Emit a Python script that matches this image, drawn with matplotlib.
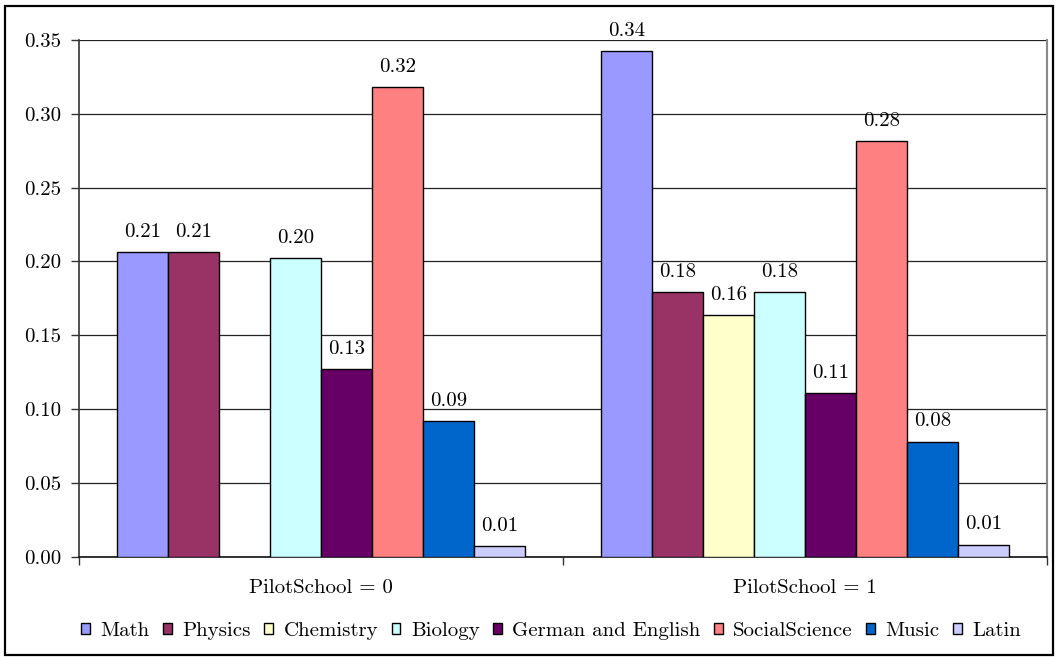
import numpy as np
import matplotlib.pyplot as plt
from matplotlib.patches import Rectangle

plt.rcParams['font.family'] = ["cmr10", "DejaVu Serif"]
plt.rcParams['mathtext.fontset'] = "cm"
plt.rcParams['axes.formatter.use_mathtext'] = True

groups = ["PilotSchool = 0", "PilotSchool = 1"]
subjects = ["Math", "Physics", "Chemistry", "Biology", "German and English",
            "SocialScience", "Music", "Latin"]
colours = ["#9999FF", "#993366", "#FFFFCC", "#CCFFFF", "#660066",
           "#FF8080", "#0066CC", "#CCCCFF"]

# share per subject, one entry per group (no Chemistry value for group 0)
math = [0.2065, 0.3425]
physics = [0.2065, 0.1790]
chemistry = [np.nan, 0.1635]
biology = [0.2020, 0.1790]
german = [0.1270, 0.1110]
social = [0.3180, 0.2815]
music = [0.0920, 0.0780]
latin = [0.0070, 0.0082]
values = [math, physics, chemistry, biology, german, social, music, latin]

fs = 15

fig = plt.figure(figsize=(10.56, 6.57), dpi=100)
ax = fig.add_axes([0.0748, 0.1527, 0.9167, 0.7864])

n = len(subjects)
width = (408 / 484) / n
x = np.arange(len(groups))
for i, (name, vals, c) in enumerate(zip(subjects, values, colours)):
    pos = x - width * n / 2 + width * (i + 0.5)
    bars = ax.bar(pos, vals, width, color=c, edgecolor="black", linewidth=1.0,
                  label=name, zorder=3)
    labels = ["" if np.isnan(v) else f"{v:.2f}" for v in vals]
    ax.bar_label(bars, labels=labels, padding=8, fontsize=fs)

ax.set_xlim(-0.5, 1.5)
ax.set_ylim(0, 0.35)
ticks = np.arange(0, 0.351, 0.05)
ax.set_yticks(ticks)
ax.set_yticklabels([f"{t:.2f}" for t in ticks], fontsize=fs)
ax.yaxis.grid(True, color="#222222", linewidth=0.9, zorder=0)

ax.set_xticks([-0.5, 0.5, 1.5])
ax.set_xticklabels([])
ax.set_xticks(x, minor=True)
ax.set_xticklabels(groups, minor=True, fontsize=fs)
ax.tick_params(axis="x", which="minor", length=0, pad=16)
ax.tick_params(axis="x", which="major", length=6, width=1, color="#333333")
ax.tick_params(axis="y", length=6, width=1, color="#333333", pad=7)

ax.spines["top"].set_visible(False)
ax.spines["right"].set_color("#888888")
ax.spines["right"].set_linewidth(1.5)
ax.spines["left"].set_color("#333333")
ax.spines["left"].set_linewidth(1.2)
ax.spines["bottom"].set_color("#111111")
ax.spines["bottom"].set_linewidth(1.2)

fig.legend(loc="center", bbox_to_anchor=(0.522, 0.04), ncol=n, frameon=False,
           fontsize=fs, handlelength=0.42, handleheight=0.45,
           handletextpad=0.5, columnspacing=0.65)

fig.patches.append(Rectangle((0.005, 0.003), 0.992, 0.988, transform=fig.transFigure,
                             fill=False, edgecolor="black", linewidth=1.6))

fig.savefig("out.png", dpi=100)
